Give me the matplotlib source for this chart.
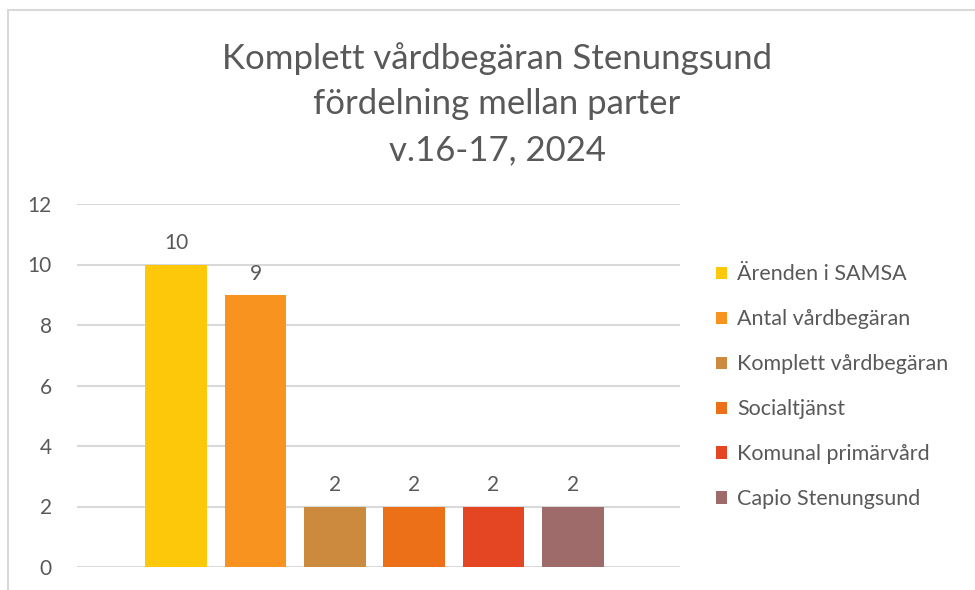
import matplotlib
matplotlib.use("Agg")
import matplotlib.pyplot as plt
from matplotlib.patches import Rectangle

categories = ["Ärenden i SAMSA", "Antal vårdbegäran", "Komplett vårdbegäran",
              "Socialtjänst", "Komunal primärvård", "Capio Stenungsund"]
values = [10, 9, 2, 2, 2, 2]
colors = ["#FEC80A", "#F7931E", "#CC8A3F", "#EB7017", "#E44623", "#9E6A6A"]
yticks = [0, 2, 4, 6, 8, 10, 12]
title = "Komplett vårdbegäran Stenungsund\nfördelning mellan parter\nv.16-17, 2024"

plt.rcParams['font.family'] = ['Lato', 'DejaVu Sans']
text_color = "#595959"

fig = plt.figure(figsize=(9.75, 5.9), dpi=100)
fig.patch.set_facecolor("white")

# chart border (partially visible)
fig.add_artist(Rectangle((8/975, -0.1), 1.2, 1 - 10/590 + 0.1, transform=fig.transFigure,
                         fill=False, edgecolor="#D9D9D9", linewidth=1.5))

ax = fig.add_axes([77/975, 1 - 567/590, (680 - 77)/975, (567 - 204)/590])
xs = list(range(len(values)))
bars = ax.bar(xs, values, width=0.78, color=colors, zorder=3)

for x, v in zip(xs, values):
    ax.annotate(str(v), (x, v), xytext=(0, 8), textcoords="offset points",
                ha="center", va="bottom", fontsize=15, color=text_color)

ax.set_xlim(-1.25, 6.35)
ax.set_ylim(0, 12)
ax.set_yticks(yticks)
ax.set_xticks([])
ax.yaxis.grid(True, color="#D9D9D9", linewidth=1.5, zorder=0)
ax.set_axisbelow(True)
for s in ax.spines.values():
    s.set_visible(False)
ax.tick_params(axis="y", length=0, pad=18, labelsize=15, labelcolor=text_color)

fig.text(497/975, 1 - 104/590, title, ha="center", va="center", fontsize=25,
         color=text_color, linespacing=1.52)

fig.legend(handles=list(bars), labels=categories, loc="upper left",
           bbox_to_anchor=(697/975, 1 - 245/590), frameon=False, fontsize=15.5,
           labelcolor=text_color, handlelength=0.5, handleheight=0.5,
           handletextpad=0.45, labelspacing=1.16)

fig.savefig("out.png", dpi=100)
